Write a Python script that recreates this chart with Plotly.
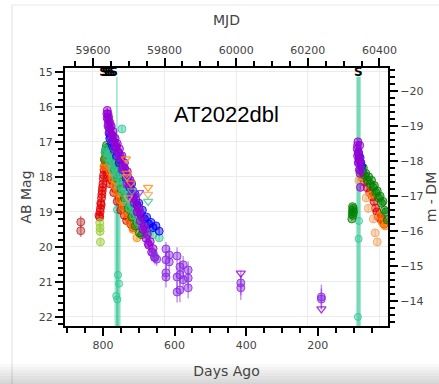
import plotly.graph_objects as go

REF_MJD = 60428
DM = 35.54

# ---------------- data (days ago, AB mag, error) ----------------
uvw2_t = [789, 788, 787, 786, 785, 784, 783, 781, 779, 777, 775, 772, 769, 766, 763, 760, 757, 754, 750, 747, 744, 740,
          736, 732, 728, 724, 720, 716, 712, 708, 704, 700, 696, 692, 688, 684, 680, 676, 672, 668, 664, 660, 656,
          90, 89, 88, 87, 86, 85, 84, 83, 82, 81, 80]
uvw2_m = [16.2, 16.1, 16.35, 16.2, 16.5, 16.3, 16.6, 16.45, 16.75, 16.55, 16.8, 16.7, 17.0, 16.9, 17.15, 17.05, 17.3,
          17.2, 17.5, 17.4, 17.7, 17.6, 17.95, 17.85, 18.25, 18.1, 18.5, 18.4, 18.75, 18.65, 19.0, 18.9, 19.25, 19.15,
          19.5, 19.4, 19.75, 19.65, 19.95, 19.85, 20.15, 20.05, 20.3,
          17.2, 17.4, 17.0, 17.6, 17.3, 17.5, 17.8, 17.1, 17.9, 18.3, 17.6]
uvw2_err = 0.08

uvm2_t = [788, 786, 784, 782, 779, 776, 772, 768, 763, 758, 752, 746, 740, 733, 726, 719, 712, 705, 698, 690, 682, 674,
          89, 87, 85, 83, 81]
uvm2_m = [16.3, 16.55, 16.4, 16.7, 16.6, 16.95, 16.85, 17.2, 17.1, 17.45, 17.4, 17.8, 17.75, 18.2, 18.15, 18.6, 18.55,
          19.0, 18.95, 19.45, 19.5, 19.9,
          17.1, 17.3, 17.6, 17.5, 17.8]
uvm2_err = 0.09

late_t = [660, 655, 650, 624, 624, 624, 624, 615, 615, 593, 593, 593, 585, 585, 585, 576, 576, 562, 562, 562,
          415, 415, 190, 190]
late_m = [20.17, 20.3, 20.35, 20.06, 20.37, 20.74, 20.86, 20.23, 20.43, 20.26, 20.86, 21.29, 20.57, 20.80, 21.23,
          20.51, 20.94, 20.66, 20.89, 21.17, 21.03, 21.17, 21.43, 21.49]
late_e = [0.15, 0.2, 0.2, 0.2, 0.25, 0.25, 0.3, 0.2, 0.25, 0.25, 0.3, 0.3, 0.25, 0.3, 0.35, 0.25, 0.3, 0.25, 0.3, 0.3,
          0.35, 0.35, 0.35, 0.3]
late_lim_t = [415, 190]
late_lim_m = [20.75, 21.77]

uvw1_t = [783, 781, 779, 776, 773, 770, 766, 762, 758, 754, 750, 745, 740, 735, 730, 725, 720, 715, 710, 705, 700, 695,
          690, 684, 678, 672, 666, 660, 652, 643,
          86, 84, 82, 80, 78]
uvw1_m = [16.75, 16.9, 16.85, 17.05, 17.0, 17.2, 17.15, 17.4, 17.3, 17.6, 17.5, 17.8, 17.75, 18.05, 18.0, 18.3, 18.2,
          18.55, 18.5, 18.8, 18.75, 19.05, 18.95, 19.2, 19.15, 19.35, 19.3, 19.45, 19.4, 19.55,
          17.35, 17.5, 17.45, 17.6, 17.7]
uvw1_err = 0.07

g_t = [796, 794, 792, 790, 788, 785, 782, 779, 776, 772, 768, 764, 760, 755, 750, 745, 740, 735, 730, 725, 720, 715,
       710, 704, 698, 692,
       105, 104, 103, 103, 102, 101, 100,
       78, 75, 73, 70, 66, 62, 58, 54, 50, 46, 42, 38, 34, 30, 26, 22, 18, 14, 10, 6]
g_m = [17.5, 17.3, 17.2, 17.1, 17.25, 17.15, 17.4, 17.3, 17.55, 17.5, 17.8, 17.7, 18.05, 17.95, 18.35, 18.2, 18.6,
       18.5, 18.9, 18.8, 19.15, 19.05, 19.4, 19.3, 19.6, 19.65,
       19.2, 19.05, 18.95, 18.85, 19.1, 18.9, 19.0,
       17.7, 17.85, 17.74, 17.95, 17.9, 18.1, 18.0, 18.2, 18.1, 18.3, 18.25, 18.45, 18.4, 18.6, 18.55, 18.75, 18.7,
       18.95, 19.0, 19.23]
g_err = 0.07

c_t = [793, 790, 787, 784, 781, 777, 773, 769, 765, 760, 755, 750, 745, 740, 735, 730, 725, 720, 714, 708, 702, 696,
       690, 683, 676, 668, 660, 643, 747]
c_m = [17.3, 17.2, 17.45, 17.35, 17.6, 17.5, 17.8, 17.7, 18.0, 17.9, 18.25, 18.1, 18.45, 18.35, 18.7, 18.55, 18.9,
       18.8, 19.1, 19.0, 19.3, 19.2, 19.45, 19.35, 19.6, 19.5, 19.65, 19.74, 16.63]
c_err = 0.08

# ATLAS-c points with very large errors (appear as vertical bands)
cwide_t = [761, 758, 755, 763, 760, 88, 86, 85]
cwide_m = [18.94, 20.8, 21.05, 21.4, 21.5, 22.0, 19.77, 19.26]
cwide_e = [3.8, 3.0, 3.5, 4.6, 4.2, 6.86, 4.63, 4.12]

o_t = [797, 795, 793, 791, 789, 787, 785, 782, 779, 776, 773, 770, 767, 764, 760, 756, 752, 748, 744, 740, 736, 731,
       726, 721, 716, 711, 705,
       76, 48, 25, 20, 12]
o_m = [17.7, 17.5, 17.4, 17.3, 17.5, 17.35, 17.65, 17.5, 17.85, 17.7, 18.05, 17.9, 18.25, 18.1, 18.45, 18.3, 18.65,
       18.5, 18.85, 18.7, 19.05, 18.9, 19.3, 19.15, 19.5, 19.4, 19.74,
       17.97, 18.5, 19.1, 19.3, 19.4]
o_err = 0.08

r_t = [811, 809, 808, 807, 806, 805, 804, 803, 802, 801, 800, 799, 798, 797, 796, 794, 790, 785, 780, 775, 770, 765,
       760, 755, 750, 745, 740, 734, 728, 722, 716,
       75, 70, 62, 55, 48, 43, 39, 35, 31, 25, 20, 15]
r_m = [19.1, 19.15, 19.0, 18.9, 18.75, 18.8, 18.6, 18.5, 18.4, 18.3, 18.2, 18.05, 17.95, 17.8, 17.7, 17.55, 17.8,
       18.0, 18.2, 18.1, 18.45, 18.35, 18.7, 18.6, 18.95, 18.85, 19.1, 19.25, 19.15, 19.35, 19.45,
       18.03, 18.15, 18.31, 18.45, 18.57, 18.7, 18.89, 19.0, 19.14, 19.2, 19.23, 19.35]
r_err = 0.09

i_t = [85, 65, 59, 45, 40, 34]
i_m = [18.1, 18.6, 18.9, 19.2, 19.6, 19.86]
i_err = 0.12

yg_t = [809, 808, 808, 807]
yg_m = [19.31, 19.46, 19.56, 19.86]
yg_err = 0.12

early_t = [862, 862]
early_m = [19.29, 19.54]
early_err = 0.18

# upper limits
lim_o_t = [736, 733, 722, 674]
lim_o_m = [17.49, 17.9, 18.18, 18.3]
lim_i_t = [733, 730, 674]
lim_i_m = [18.0, 18.6, 18.5]
lim_p_t = [699]
lim_p_m = [18.45]
lim_c_t = [719, 674]
lim_c_m = [18.4, 18.7]

# spectra epochs
spec_t = [798, 791, 784, 777, 770, 87]

# ---------------- figure ----------------
def rgba(rgb, a):
    return "rgba(%d,%d,%d,%.2f)" % (rgb[0], rgb[1], rgb[2], a)


def pts(t, m, err, rgb, size=8):
    e = dict(type="data", array=err, color=rgba(rgb, 0.5), thickness=1.5, width=0) if isinstance(err, list) \
        else dict(type="constant", value=err, color=rgba(rgb, 0.5), thickness=1.5, width=0)
    return go.Scatter(x=t, y=m, mode="markers", error_y=e, showlegend=False, hoverinfo="skip",
                      marker=dict(symbol="circle", size=size, color=rgba(rgb, 0.45),
                                  line=dict(color=rgba(rgb, 0.85), width=1)))


def lims(t, m, rgb):
    return go.Scatter(x=t, y=m, mode="markers", showlegend=False, hoverinfo="skip",
                      marker=dict(symbol="triangle-down-open", size=8, color=rgba(rgb, 0.8),
                                  line=dict(width=1.3)))


DARKVIOLET = (148, 0, 211)
BLUEVIOLET = (138, 43, 226)
BLUE = (0, 0, 255)
GREEN = (0, 128, 0)
TEAL = (50, 200, 150)
ORANGE = (255, 140, 0)
RED = (225, 0, 0)
SANDY = (244, 164, 96)
YGREEN = (154, 205, 50)
INDRED = (190, 50, 50)

fig = go.Figure()

# wide teal error bars
fig.add_trace(go.Scatter(x=cwide_t[:1], y=cwide_m[:1], mode="markers", showlegend=False, hoverinfo="skip",
                         error_y=dict(type="data", array=cwide_e[:1], color=rgba(TEAL, 0.5), thickness=1.5, width=0),
                         marker=dict(size=7, color=rgba(TEAL, 0.3), line=dict(color=rgba(TEAL, 0.9), width=1))))
fig.add_trace(go.Scatter(x=cwide_t[1:], y=cwide_m[1:], mode="markers", showlegend=False, hoverinfo="skip",
                         error_y=dict(type="data", array=cwide_e[1:], color=rgba(TEAL, 0.3), thickness=4, width=0),
                         marker=dict(size=7, color=rgba(TEAL, 0.3), line=dict(color=rgba(TEAL, 0.9), width=1))))

fig.add_trace(pts(early_t, early_m, early_err, INDRED))
fig.add_trace(pts(r_t, r_m, r_err, RED))
fig.add_trace(pts(yg_t, yg_m, yg_err, YGREEN))
fig.add_trace(pts(i_t, i_m, i_err, SANDY))
fig.add_trace(pts(o_t, o_m, o_err, ORANGE))
fig.add_trace(pts(g_t, g_m, g_err, GREEN))
fig.add_trace(pts(c_t, c_m, c_err, TEAL))
fig.add_trace(pts(uvw1_t, uvw1_m, uvw1_err, BLUE))
fig.add_trace(pts(uvm2_t, uvm2_m, uvm2_err, BLUEVIOLET))
fig.add_trace(pts(uvw2_t, uvw2_m, uvw2_err, DARKVIOLET))
fig.add_trace(pts(late_t, late_m, late_e, BLUEVIOLET))
fig.add_trace(lims(late_lim_t, late_lim_m, DARKVIOLET))
fig.add_trace(lims(lim_o_t, lim_o_m, ORANGE))
fig.add_trace(lims(lim_i_t, lim_i_m, SANDY))
fig.add_trace(lims(lim_p_t, lim_p_m, BLUEVIOLET))
fig.add_trace(lims(lim_c_t, lim_c_m, TEAL))

# spectra markers
fig.add_trace(go.Scatter(x=spec_t, y=[15.02] * len(spec_t), mode="text", text=["S"] * len(spec_t),
                         textfont=dict(family="DejaVu Sans", size=12, color="black", weight="bold"),
                         cliponaxis=False, showlegend=False, hoverinfo="skip"))

# invisible traces to carry secondary axes
x_lo, x_hi = 906, 4
y_lo, y_hi = 22.26, 14.89
fig.add_trace(go.Scatter(x=[REF_MJD - d for d in uvw2_t], y=uvw2_m, xaxis="x2", yaxis="y", mode="markers",
                         marker=dict(opacity=0), showlegend=False, hoverinfo="skip"))
fig.add_trace(go.Scatter(x=uvw2_t, y=[m - DM for m in uvw2_m], xaxis="x", yaxis="y2", mode="markers",
                         marker=dict(opacity=0), showlegend=False, hoverinfo="skip"))

FONT = "DejaVu Sans"
TICKC = "#444"
axis_common = dict(showline=True, linecolor="black", linewidth=2, ticks="outside", ticklen=8, tickwidth=1.5,
                   tickcolor="black", zeroline=False, automargin=False,
                   tickfont=dict(family=FONT, size=11, color=TICKC))

fig.update_layout(
    width=439, height=384,
    margin=dict(l=65, r=51, t=68, b=58, autoexpand=False),
    paper_bgcolor="white", plot_bgcolor="white",
    showlegend=False,
    xaxis=dict(range=[x_lo, x_hi], tick0=0, dtick=200, showgrid=False,
               title=dict(text="Days Ago", font=dict(family=FONT, size=14, color=TICKC)),
               minor=dict(dtick=50, tick0=0, ticks="outside", ticklen=5, tickcolor="black", showgrid=False),
               **axis_common),
    xaxis2=dict(range=[REF_MJD - x_lo, REF_MJD - x_hi], overlaying="x", side="top", tick0=0, dtick=200,
                tickformat="d",
                showgrid=True, gridcolor="rgb(235,235,235)",
                title=dict(text="MJD", font=dict(family=FONT, size=14, color=TICKC)),
                minor=dict(dtick=50, ticks="outside", ticklen=5, tickcolor="black", showgrid=False),
                **axis_common),
    yaxis=dict(range=[y_lo, y_hi], dtick=1, showgrid=True, gridcolor="rgb(235,235,235)",
               title=dict(text="AB Mag", font=dict(family=FONT, size=14, color=TICKC), standoff=4),
               minor=dict(dtick=0.2, ticks="outside", ticklen=5, tickcolor="black", showgrid=False),
               **axis_common),
    yaxis2=dict(range=[y_lo - DM, y_hi - DM], overlaying="y", side="right", dtick=1, showgrid=False,
                title=dict(text="m - DM", font=dict(family=FONT, size=14, color=TICKC), standoff=14),
                minor=dict(dtick=0.2, ticks="outside", ticklen=5, tickcolor="black", showgrid=False),
                **axis_common),
)

fig.add_annotation(text="AT2022dbl", xref="paper", yref="paper", x=0.50, y=0.876, showarrow=False,
                   font=dict(family="Liberation Sans", size=22, color="black"))

# page-frame decorations (container border and bottom shadow)
def px(x):
    return (x - 65) / 323.0


def py(y):
    return (326 - y) / 258.0


fig.add_shape(type="line", xref="paper", yref="paper", x0=px(12), x1=px(12), y0=py(5), y1=py(400),
              line=dict(color="rgb(222,222,222)", width=1))
fig.add_shape(type="line", xref="paper", yref="paper", x0=px(12), x1=px(460), y0=py(5), y1=py(5),
              line=dict(color="rgb(232,232,232)", width=1))
for k in range(7):
    fig.add_shape(type="rect", xref="paper", yref="paper", x0=px(-10), x1=px(460), y0=py(364 + 3 * k), y1=py(400),
                  line=dict(width=0), fillcolor="rgba(0,0,0,0.022)")

fig.write_html("out.html")
